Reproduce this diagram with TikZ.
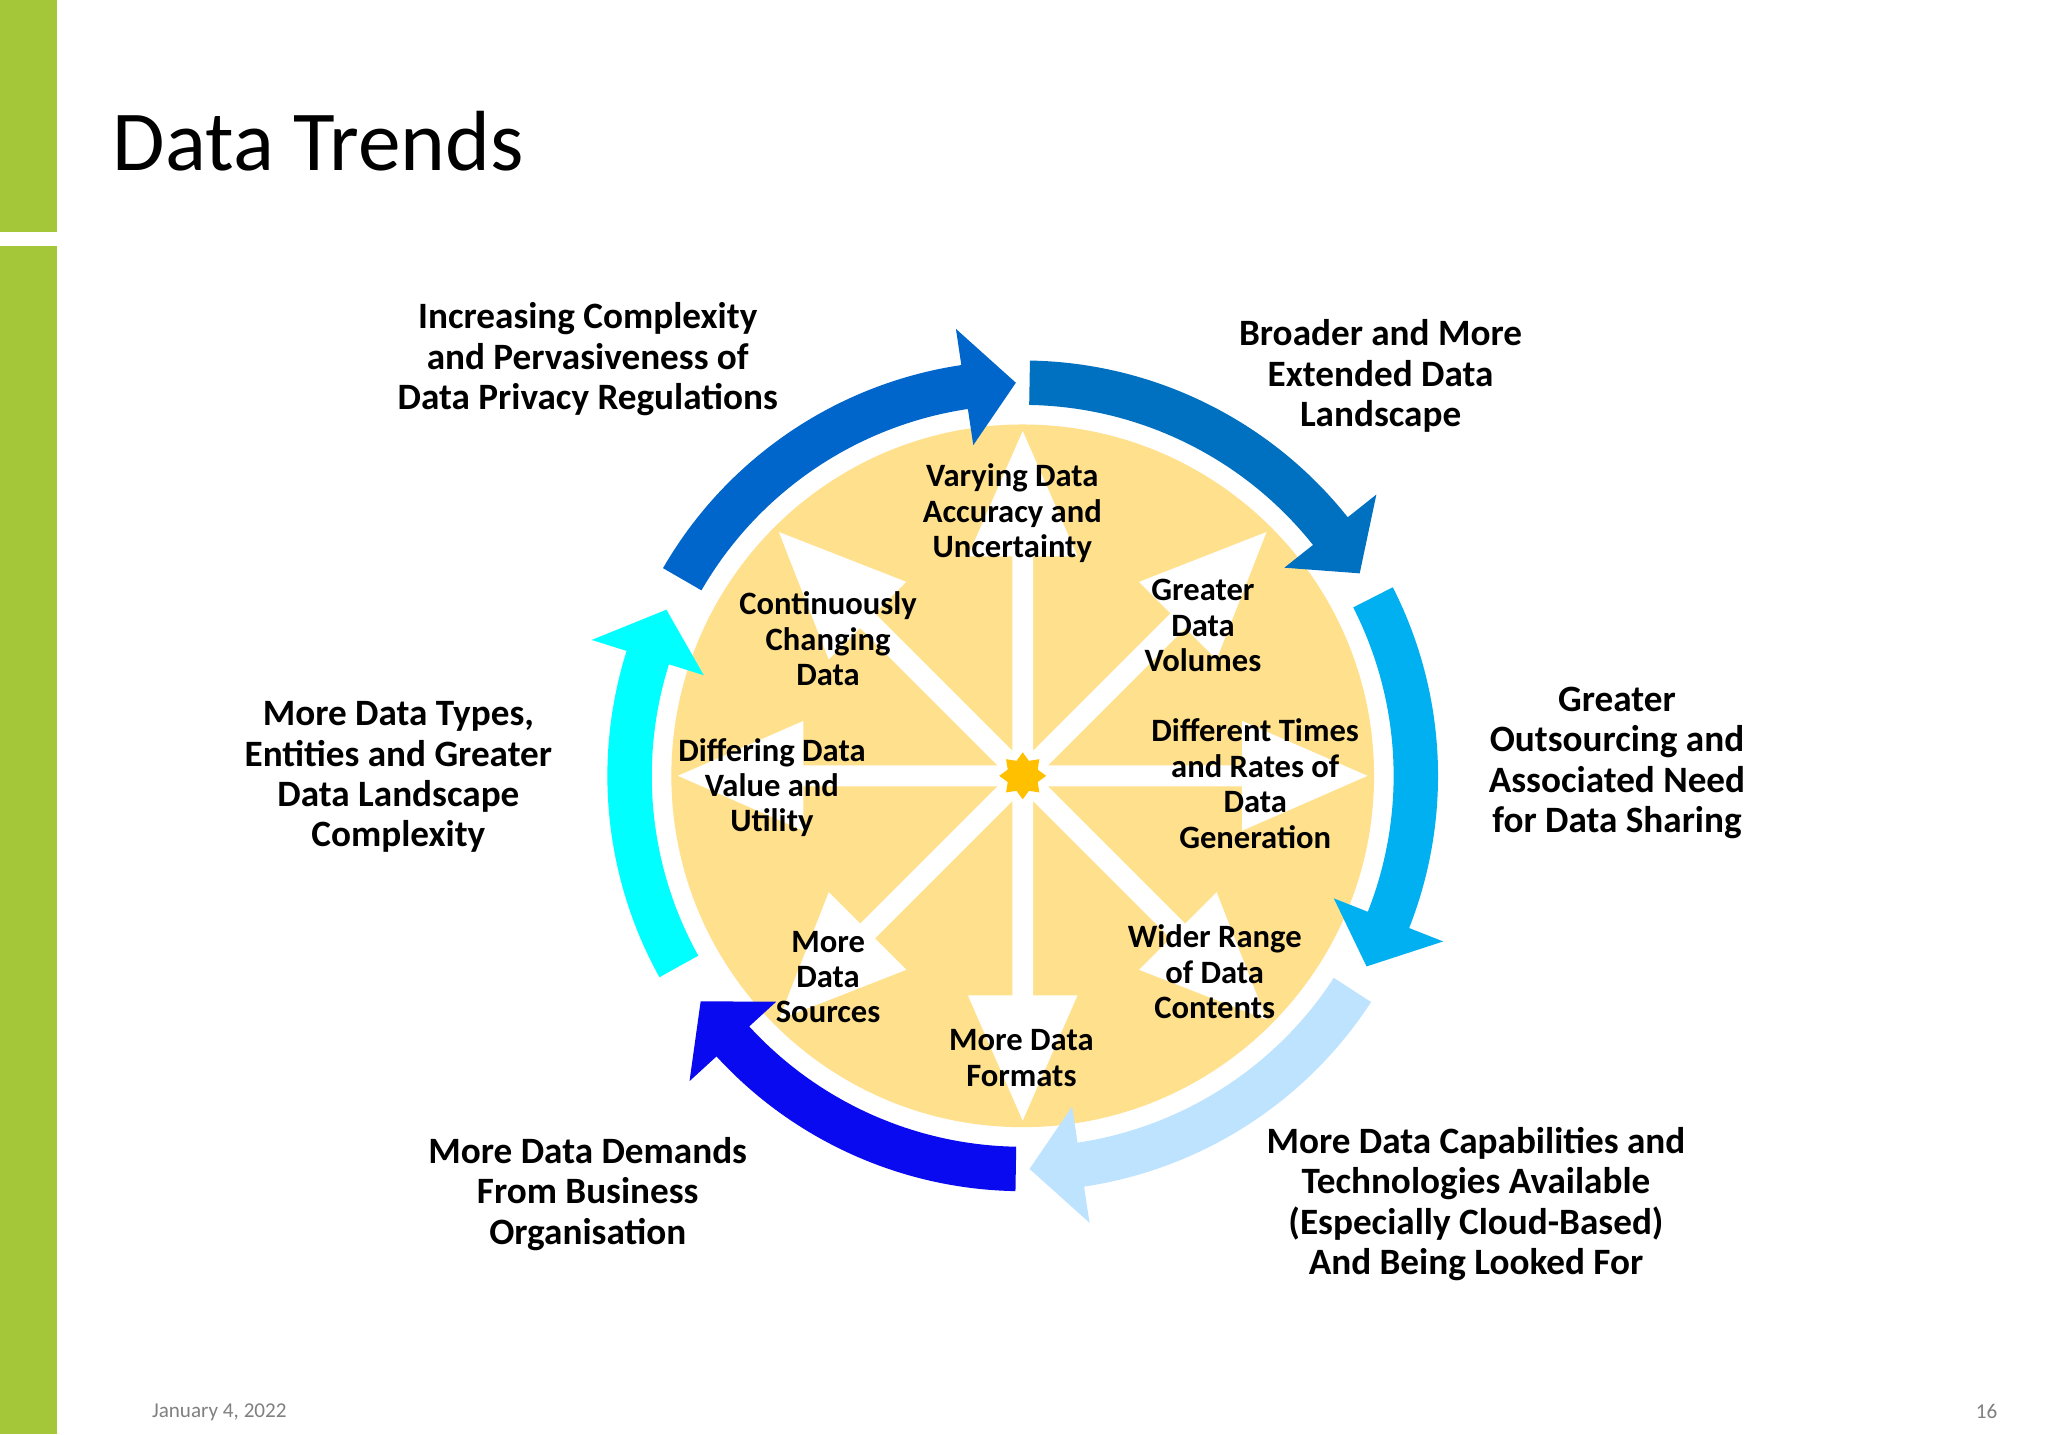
\documentclass[tikz,border=0pt]{standalone}
\usepackage{fontspec}
\setmainfont{Carlito}
\usetikzlibrary{shapes.geometric}
\definecolor{barg}{HTML}{A4C639}
\definecolor{pie}{HTML}{FFE08C}
\definecolor{gold}{HTML}{FFC000}
\definecolor{cA}{HTML}{0066CC}
\definecolor{cB}{HTML}{0070C0}
\definecolor{cC}{HTML}{00B0F0}
\definecolor{cD}{HTML}{BDE3FF}
\definecolor{cE}{HTML}{0A0AF0}
\definecolor{cF}{HTML}{00FFFF}
\tikzset{
 outer/.style={font=\fontsize{8.1pt}{8.8pt}\selectfont\bfseries, align=center},
 inner/.style={font=\fontsize{7.1pt}{7.7pt}\selectfont\bfseries, align=center},
}
\newcommand{\ringarrow}[3]{% color, start, end
 \pgfmathsetmacro{\hh}{#3+7.5}
 \fill[#1] (#2:3.18) arc[start angle=#2,end angle=\hh,radius=3.18cm] -- (\hh:3.46) -- (#3:3.01) -- (\hh:2.56) -- (\hh:2.84) arc[start angle=\hh,end angle=#2,radius=2.84cm] -- cycle;}
\begin{document}
\begin{tikzpicture}[x=1cm,y=-1cm]
\useasboundingbox (0,0) rectangle (15.68,10.98);
\fill[white] (0,0) rectangle (15.68,10.98);
\fill[barg] (0,0) rectangle (0.44,1.78);
\fill[barg] (0,1.88) rectangle (0.44,10.98);
\node[anchor=west, font=\fontsize{18.6pt}{20pt}\selectfont] (title) at (0.74,1.08) {Data Trends};
\node[anchor=west, font=\fontsize{4.6pt}{5pt}\selectfont, text=gray] (date) at (1.04,10.81) {January 4, 2022};
\node[font=\fontsize{4.6pt}{5pt}\selectfont, text=gray] (page) at (15.21,10.81) {16};
\begin{scope}[shift={(7.83,5.94)}, y=1cm]
 \fill[pie] (0,0) circle (2.69);
 \foreach \t in {0,45,...,315}{
  \fill[white, rotate=\t] (0,-0.08) -- (1.68,-0.08) -- (1.68,-0.42) -- (2.64,0) -- (1.68,0.42) -- (1.68,0.08) -- (0,0.08) -- cycle;}
 \node[star, star points=8, star point ratio=1.45, fill=gold, minimum size=0.36cm, inner sep=0pt] (hub) at (0,0) {};
 \ringarrow{cA}{150}{91}
 \ringarrow{cB}{89}{31}
 \ringarrow{cC}{27}{-29}
 \ringarrow{cD}{-33}{-89}
 \ringarrow{cE}{-91}{-145}
 \ringarrow{cF}{-151}{-205}
\end{scope}
\node[outer] (o1) at (4.50,2.75) {Increasing Complexity\\and Pervasiveness of\\Data Privacy Regulations};
\node[outer] (o2) at (10.57,2.88) {Broader and More\\Extended Data\\Landscape};
\node[outer] (o3) at (12.38,5.84) {Greater\\Outsourcing and\\Associated Need\\for Data Sharing};
\node[outer] (o4) at (11.30,9.22) {More Data Capabilities and\\Technologies Available\\(Especially Cloud-Based)\\And Being Looked For};
\node[outer] (o5) at (4.50,9.14) {More Data Demands\\From Business\\Organisation};
\node[outer] (o6) at (3.05,5.95) {More Data Types,\\Entities and Greater\\Data Landscape\\Complexity};
\node[inner] (i1) at (7.75,3.93) {Varying Data\\Accuracy and\\Uncertainty};
\node[inner] (i2) at (9.21,4.79) {Greater\\Data\\Volumes};
\node[inner] (i3) at (9.61,6.00) {Different Times\\and Rates of\\Data\\Generation};
\node[inner] (i4) at (9.30,7.44) {Wider Range\\of Data\\Contents};
\node[inner] (i5) at (7.82,8.10) {More Data\\Formats};
\node[inner] (i6) at (6.34,7.48) {More\\Data\\Sources};
\node[inner] (i7) at (5.91,6.03) {Differing Data\\Value and\\Utility};
\node[inner] (i8) at (6.34,4.89) {Continuously\\Changing\\Data};
\end{tikzpicture}
\end{document}
